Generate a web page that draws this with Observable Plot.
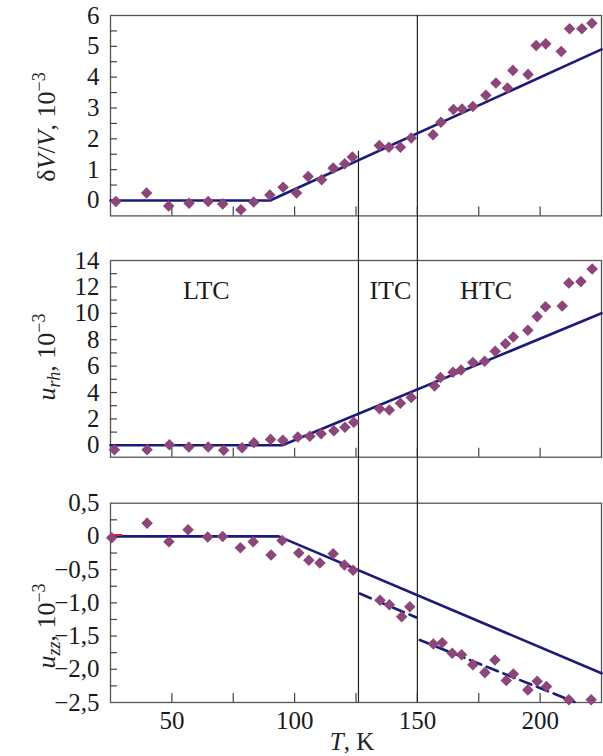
<!DOCTYPE html>
<html><head><meta charset="utf-8">
<script src="https://cdn.jsdelivr.net/npm/d3@7"></script>
<script src="https://cdn.jsdelivr.net/npm/@observablehq/plot@0.6"></script>
<style>
body{margin:0;background:#fff;}
#wrap{position:relative;width:603px;height:756px;font-family:"Liberation Serif","Times New Roman",serif;color:#222;}
#wrap svg{display:block;}
.lab{position:absolute;white-space:nowrap;font-size:25px;line-height:25px;}
.ylab{transform:translate(-50%,-50%) rotate(-90deg);font-size:26px;}
.lab sup{font-size:18px;line-height:0;vertical-align:10px;}
.lab sub{font-size:18px;line-height:0;vertical-align:-5px;}
</style></head><body><div id="wrap"></div>
<script>
// ---- x axis ----
const xDomain = [25, 225];
const xTickAll = [50, 75, 100, 125, 150, 175, 200];
const xTickLabels = [50, 100, 150, 200];

// ---- phase boundaries ----
const boundaryT = [126, 150];
const boundaryTopStart = [1.6, 6];   // where each boundary starts in the top panel
const regionNames = ["LTC", "ITC", "HTC"];
const regionT = [64, 139, 178];
const regionY = 11.7;

// ---- top panel: δV/V ----
const T_dV = [27.2,39.7,48.7,57,64.8,70.7,78.1,83.3,89.9,95.3,100.8,105.5,111,115.7,120.4,123.5,134.5,138.4,143.1,147.5,156.4,159.6,164.7,168.2,172.6,177.9,182,186.7,188.9,195.1,198.4,202.3,208.6,212,217,221.1];
const dV = [-0.03,0.24,-0.18,-0.09,-0.03,-0.11,-0.3,-0.05,0.18,0.43,0.24,0.78,0.67,1.05,1.19,1.41,1.78,1.73,1.73,2.03,2.13,2.54,2.95,2.97,3.05,3.41,3.81,3.65,4.22,4.09,5.03,5.08,4.83,5.57,5.57,5.75];
const fitT_dV = [25, 90, 225];
const fit_dV = [0, 0, 4.9];
const yDom_dV = [-0.5, 6];
const yTicks_dV = [0,1,2,3,4,5,6];
const yMinor_dV = [0,0.5,1,1.5,2,2.5,3,3.5,4,4.5,5,5.5];

// ---- middle panel: u_rh ----
const T_urh = [26.6,39.9,49,56.9,64.8,71.1,78.6,83.4,90.2,95.2,101.3,106.2,110.8,116,120.5,124.1,134.6,138.6,143.1,147.5,157,159.4,164.5,167.8,172.6,177.4,181.7,185.9,189.1,195,198.8,202.2,209,211.7,216.6,221.2];
const urh = [-0.33,-0.33,0.05,-0.13,-0.13,-0.38,-0.18,0.2,0.45,0.38,0.63,0.68,0.88,1.1,1.37,1.75,2.77,2.67,3.18,3.62,4.5,5.13,5.54,5.7,6.27,6.37,7.12,7.7,8.2,8.72,9.75,10.5,10.55,12.3,12.4,13.35];
const fitT_urh = [25, 95, 225];
const fit_urh = [0, 0, 10];
const yDom_urh = [-0.9, 14];
const yTicks_urh = [0,2,4,6,8,10,12,14];
const yMinor_urh = [0,1,2,3,4,5,6,7,8,9,10,11,12,13];

// ---- bottom panel: u_zz ----
const T_uzz = [25.5,39.9,48.8,56.6,64.6,70.7,77.9,83.1,90.4,94.9,101.7,105.8,110.3,115.7,120.3,123.8,134.8,138.6,143.6,146.9,156.5,160.1,164.2,168,172.6,177.5,181.6,186.2,189.1,195,198.8,202.6,211.7,220.8];
const uzz = [-0.02,0.2,-0.08,0.1,-0.01,0,-0.17,-0.08,-0.28,-0.06,-0.25,-0.36,-0.4,-0.26,-0.43,-0.51,-0.96,-1.03,-1.21,-1.06,-1.62,-1.6,-1.76,-1.78,-1.93,-2.05,-1.86,-2.17,-2.07,-2.31,-2.18,-2.26,-2.46,-2.46];
const fitT_uzz = [25, 93.5, 225];
const fit_uzz = [0, 0, -2.06];
const itcT = [126.5, 149.6];
const itcU = [-0.86, -1.22];
const htcT = [151, 214];
const htcU = [-1.56, -2.49];
const redT = [25, 29.5];
const redU = [0.02, 0.02];
const yDom_uzz = [-2.5, 0.5];
const yTicks_uzz = [-2.5,-2,-1.5,-1,-0.5,0,0.5];
const yMinor_uzz = [-2.25,-2,-1.75,-1.5,-1.25,-1,-0.75,-0.5,-0.25,0,0.25];

// ---- styles ----
const dotColor = "#8c4679";
const lineColor = "#1d1b7a";
const ruleColor = "#222";
const frameColor = "#555";

const rows = (xs, ys) => xs.map((x, i) => ({T: x, v: ys[i]}));
const fmtInt = d => d3.format("d")(d);
const fmtComma = d => d === 0 ? "0" : d3.format(".1f")(d).replace(".", ",");

const W = 603, ML = 110, MR = 2;

function panel({height, marginTop, marginBottom, yDomain, yTicks, yMinor, fmt, marks, rules, xLabels}) {
  return Plot.plot({
    width: W, height, marginLeft: ML, marginRight: MR, marginTop, marginBottom,
    x: {domain: xDomain},
    y: {domain: yDomain},
    style: "font-family:'Liberation Serif','Times New Roman',serif;font-size:25px;color:#222;background:white;overflow:visible;",
    marks: [
      Plot.frame({stroke: frameColor, strokeWidth: 1.3}),
      Plot.axisY({ticks: yMinor, tickSize: -7, fill: "none", stroke: "#444", strokeWidth: 1.2, label: null}),
      Plot.axisY({ticks: yTicks, tickSize: 0, tickPadding: 11, tickFormat: fmt, fill: "#1a1a1a", label: null}),
      Plot.axisX({ticks: xTickAll, tickSize: -9, fill: "none", stroke: "#444", strokeWidth: 1.2, label: null}),
      xLabels ? Plot.axisX({ticks: xTickLabels, tickSize: 0, tickPadding: 9, tickFormat: fmtInt, fill: "#1a1a1a", label: null}) : null,
      ...rules,
      ...marks
    ]
  });
}

const H1 = 238, H2 = 242, H3 = 276;
const mt1 = 15, mb1 = 22.6, mt2 = 22, mb2 = 23.3, mt3 = 22.7, mb3 = 54;

const ruleStyle = {stroke: ruleColor, strokeWidth: 1.2};
const dotStyle = {x: "T", y: "v", symbol: "diamond2", r: 5.2, fill: dotColor, stroke: "none"};
const lineStyle = {x: "T", y: "v", stroke: lineColor, strokeWidth: 2.6};

const topRuleRows = boundaryT.map((t, i) => ({T: t, y1: boundaryTopStart[i], y2: yDom_dV[0]}));

const p1 = panel({
  height: H1, marginTop: mt1, marginBottom: mb1, yDomain: yDom_dV, yTicks: yTicks_dV, yMinor: yMinor_dV, fmt: fmtInt,
  rules: [Plot.ruleX(topRuleRows, {x: "T", y1: "y1", y2: "y2", insetBottom: -mb1, ...ruleStyle})],
  marks: [
    Plot.line(rows(fitT_dV, fit_dV), lineStyle),
    Plot.dot(rows(T_dV, dV), dotStyle)
  ]
});

const p2 = panel({
  height: H2, marginTop: mt2, marginBottom: mb2, yDomain: yDom_urh, yTicks: yTicks_urh, yMinor: yMinor_urh, fmt: fmtInt,
  rules: [Plot.ruleX(boundaryT, {insetTop: -mt2, insetBottom: -mb2, ...ruleStyle})],
  marks: [
    Plot.line(rows(fitT_urh, fit_urh), lineStyle),
    Plot.dot(rows(T_urh, urh), dotStyle),
    Plot.text(regionNames.map((n, i) => ({n, T: regionT[i], v: regionY})), {x: "T", y: "v", text: "n", fontSize: 26, fill: "#1a1a1a"})
  ]
});

const p3 = panel({
  height: H3, marginTop: mt3, marginBottom: mb3, yDomain: yDom_uzz, yTicks: yTicks_uzz, yMinor: yMinor_uzz, fmt: fmtComma, xLabels: true,
  rules: [Plot.ruleX(boundaryT, {insetTop: -mt3, ...ruleStyle})],
  marks: [
    Plot.line(rows(fitT_uzz, fit_uzz), lineStyle),
    Plot.line(rows(itcT, itcU), {...lineStyle, strokeDasharray: "12,6"}),
    Plot.line(rows(htcT, htcU), {...lineStyle, strokeDasharray: "12,6"}),
    Plot.line(rows(redT, redU), {x: "T", y: "v", stroke: "#e02020", strokeWidth: 2}),
    Plot.dot(rows(T_uzz, uzz), dotStyle)
  ]
});

const wrap = document.getElementById("wrap");
wrap.append(p1, p2, p3);

function addLabel(html, left, top, cls) {
  const d = document.createElement("div");
  d.className = "lab " + cls;
  d.style.left = left + "px";
  d.style.top = top + "px";
  d.innerHTML = html;
  wrap.appendChild(d);
}
addLabel("δ<i>V</i>/<i>V</i>, 10<sup>−3</sup>", 46, 127, "ylab");
addLabel("<i>u</i><sub><i>rh</i></sub>, 10<sup>−3</sup>", 46, 357, "ylab");
addLabel("<i>u</i><sub><i>zz</i></sub>, 10<sup>−3</sup>", 46, 626, "ylab");
const xl = document.createElement("div");
xl.className = "lab";
xl.style.left = "352px"; xl.style.top = "729px"; xl.style.transform = "translateX(-50%)";
xl.innerHTML = "<i>T</i>, K";
wrap.appendChild(xl);
</script>
</body></html>
